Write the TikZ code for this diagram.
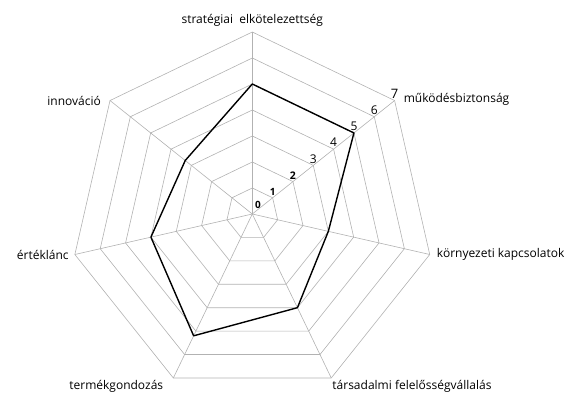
\documentclass[tikz,border=0pt]{standalone}
\usepackage{fontspec}
\setmainfont{Open Sans}
\usetikzlibrary{positioning}

\begin{document}
\begin{tikzpicture}[
  x=1pt, y=1pt,
  grid/.style   = {draw=black!30, line width=0.6pt},
  curve/.style  = {draw=black, line width=1.4pt, line join=round},
  axlbl/.style  = {font=\fontsize{12}{14}\selectfont, inner sep=1pt},
  numlbl/.style = {anchor=south, inner sep=0.5pt}
]
\useasboundingbox (-252.3,-183) rectangle (325.7,214);
\coordinate (o) at (0,0);
% axis ends at level 7
\foreach \i in {1,...,7}
  \coordinate (a\i) at ({90-(\i-1)*360/7}:182);
% rings and spokes
\foreach \k in {1,...,7}
  \draw[grid] (90:{26*\k}) \foreach \i in {1,...,6} { -- ({90-\i*360/7}:{26*\k}) } -- cycle;
\foreach \i in {1,...,7}
  \draw[grid] (o) -- (a\i);
% values
\foreach \i/\v in {1/5,2/5,3/3,4/4,5/5.2,6/4,7/3.3}
  \coordinate (d\i) at ({90-(\i-1)*360/7}:{26*\v});
\draw[curve] (d1) -- (d2) -- (d3) -- (d4) -- (d5) -- (d6) -- (d7) -- cycle;
% axis labels
\node[axlbl, above=4pt of a1] (strat) {stratégiai~~elkötelezettség};
\node[axlbl, right=8pt of a2, yshift=1pt] (mukod) {működésbiztonság};
\node[axlbl, right=6pt of a3] (korny) {környezeti kapcsolatok};
\node[axlbl, below right=1pt and 0pt of a4] (tars) {társadalmi felelősségvállalás};
\node[axlbl, below left=1pt and 9pt of a5] (termek) {termékgondozás};
\node[axlbl, left=5pt of a6] (ertek) {értéklánc};
\node[axlbl, left=8pt of a7] (innov) {innováció};
% scale
\node[numlbl, font=\fontsize{10}{10}\selectfont\bfseries, xshift=5.7pt, yshift=5pt] (n0) at (o) {0};
\foreach \k/\s in {1/10,2/10.5}
  \node[numlbl, font=\fontsize{\s}{\s}\selectfont\bfseries, yshift=1.5pt] (n\k) at ({90-360/7}:{26*\k}) {\k};
\foreach \k/\s in {3/12,4/12,5/12,6/12,7/13}
  \node[numlbl, font=\fontsize{\s}{\s}\selectfont, yshift=1.5pt] (n\k) at ({90-360/7}:{26*\k}) {\k};
\end{tikzpicture}
\end{document}
